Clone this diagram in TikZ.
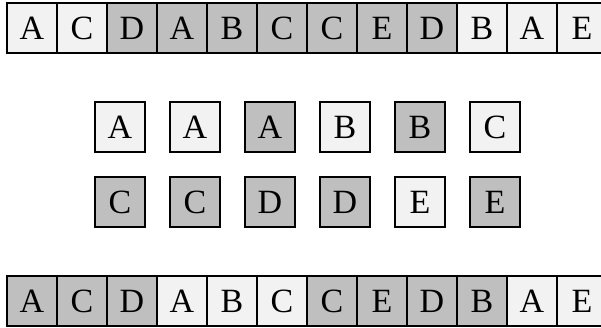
\documentclass[tikz,border=0pt]{standalone}
\usepackage{fontspec}
\setmainfont{Liberation Serif}
\definecolor{cellL}{RGB}{242,242,242}
\definecolor{cellD}{RGB}{191,191,191}

\begin{document}
\begin{tikzpicture}[x=1pt,y=1pt,
  font=\fontsize{34}{40}\selectfont,
  cell/.style={rectangle,draw=black,line width=2.8pt,
               minimum size=50pt,inner sep=0pt,anchor=center},
  lo/.style={cell,fill=cellL},
  hi/.style={cell,fill=cellD}
]
\clip (0,0) rectangle (601,-328);
% Geometry: 50pt cells, strips start at x=7, loose boxes on a 75pt pitch.
\def\stripX{32}
\def\boxX{120}

% --- top strip
\foreach \t/\s [count=\i from 0] in
    {A/lo,C/lo,D/hi,A/hi,B/hi,C/hi,C/hi,E/hi,D/hi,B/lo,A/lo,E/lo}
  \node[\s] (top\i) at (\stripX+50*\i,-28) {\t};

% --- loose boxes, first row
\foreach \t/\s [count=\i from 0] in {A/lo,A/lo,A/hi,B/lo,B/hi,C/lo}
  \node[\s] (boxA\i) at (\boxX+75*\i,-127) {\t};

% --- loose boxes, second row
\foreach \t/\s [count=\i from 0] in {C/hi,C/hi,D/hi,D/hi,E/lo,E/hi}
  \node[\s] (boxB\i) at (\boxX+75*\i,-202) {\t};

% --- bottom strip
\foreach \t/\s [count=\i from 0] in
    {A/hi,C/hi,D/hi,A/lo,B/lo,C/lo,C/hi,E/hi,D/hi,B/hi,A/lo,E/lo}
  \node[\s] (bot\i) at (\stripX+50*\i,-301) {\t};
\end{tikzpicture}
\end{document}
